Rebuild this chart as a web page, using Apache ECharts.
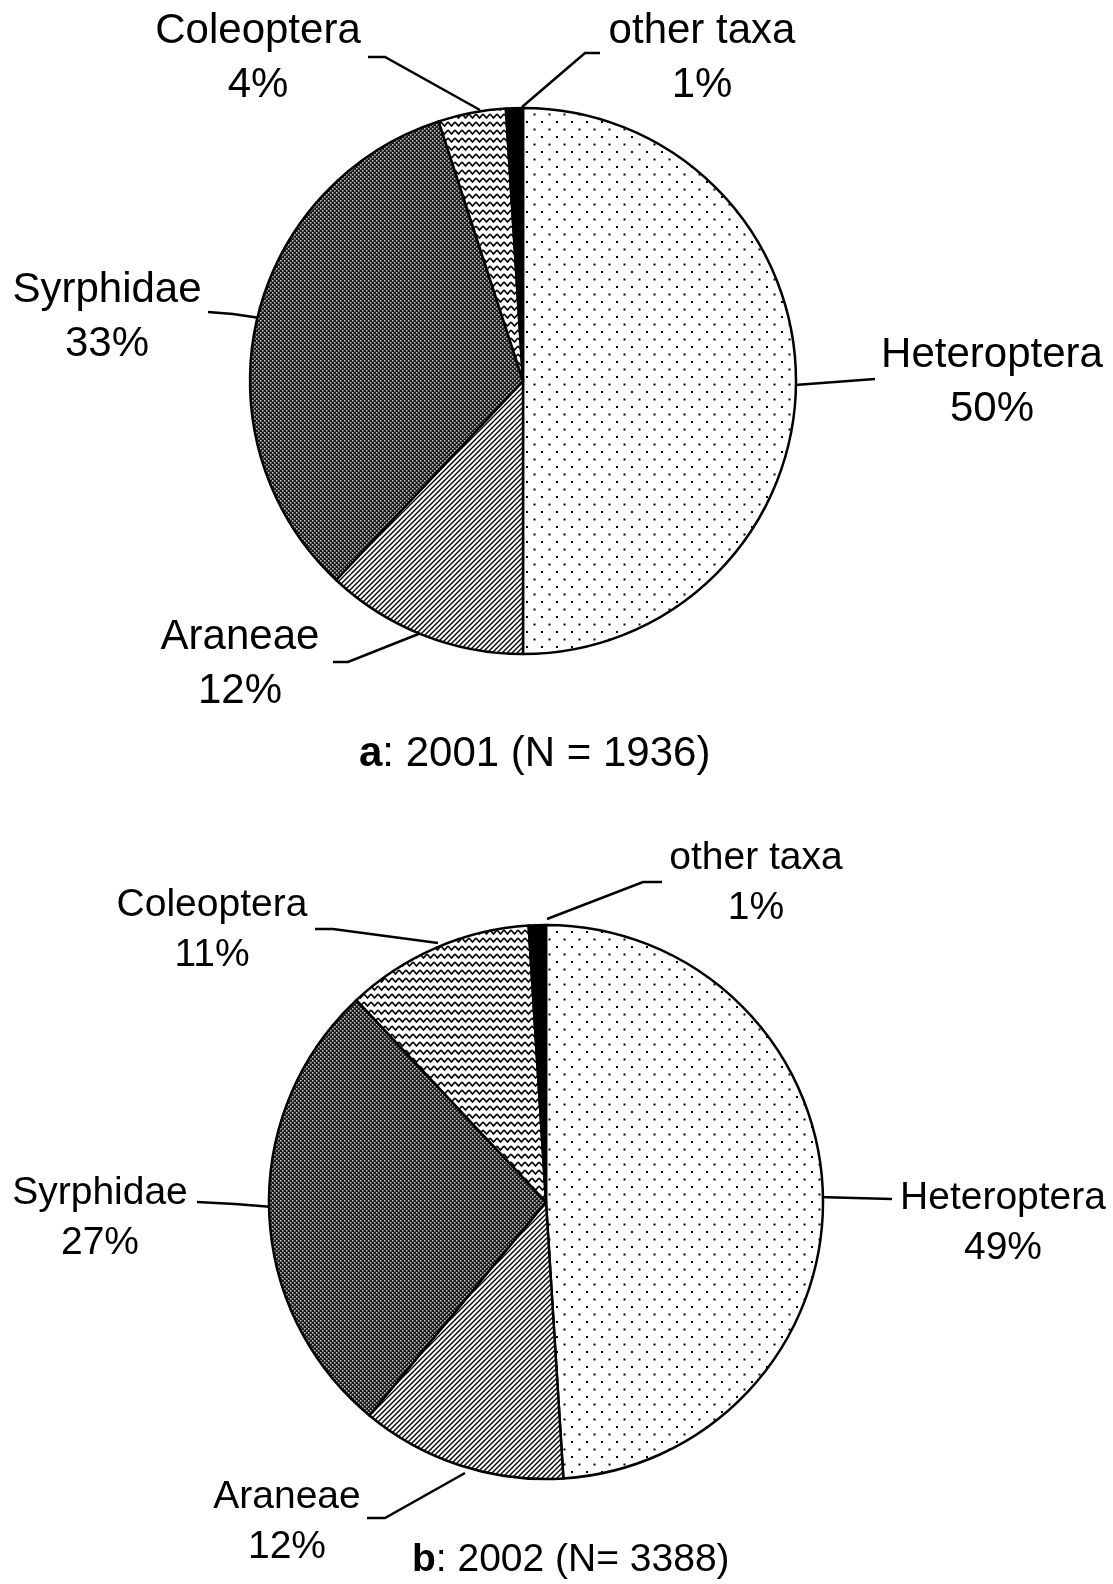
<!DOCTYPE html>
<html lang="en">
<head>
    <meta charset="UTF-8">
    <title>Taxa share 2001 / 2002</title>
    <script src="https://cdn.jsdelivr.net/npm/echarts@6/dist/echarts.min.js"></script>
    <style>
        html, body { margin: 0; padding: 0; background: #fff; }
    </style>
</head>
<body>

<div id="main" style="width: 1113px;height:1584px;"></div>
<script>
    // data (percent of individuals)
    var taxa = ['Heteroptera', 'Araneae', 'Syrphidae', 'Coleoptera', 'other taxa'];
    var share2001 = [50, 12, 33, 4, 1];
    var share2002 = [49, 12, 27, 11, 1];
    var captionA = ['a', ': 2001 (N = 1936)'];
    var captionB = ['b', ': 2002 (N= 3388)'];

    // label placement [x, y] and leader lines, per taxon
    var labelPosA = [[992, 382], [240, 664], [107, 317], [258, 58], [702, 58]];
    var leaderA = [
        [[795, 385], [835, 382], [875, 379]],
        [[421, 633], [348, 662], [333, 662]],
        [[260, 318], [233, 314], [208, 312]],
        [[480, 110], [385, 57], [368, 57]],
        [[522, 107], [585, 53], [600, 53]]
    ];
    var labelPosB = [[1003, 1223], [287, 1522], [100, 1218], [212, 930], [756, 883]];
    var leaderB = [
        [[818, 1197], [855, 1198], [892, 1199]],
        [[465, 1473], [385, 1518], [367, 1518]],
        [[273, 1207], [235, 1204], [197, 1202]],
        [[438, 943], [333, 929], [315, 929]],
        [[547, 919], [643, 882], [662, 882]]
    ];

    // fill patterns
    function tile(w, h, draw) {
        var c = document.createElement('canvas');
        c.width = w;
        c.height = h;
        var ctx = c.getContext('2d');
        draw(ctx, w, h);
        return {image: c, repeat: 'repeat'};
    }

    var dots = tile(15, 15, function (ctx) {
        ctx.fillStyle = '#fff';
        ctx.fillRect(0, 0, 15, 15);
        ctx.fillStyle = '#000';
        ctx.fillRect(1, 1, 2, 2);
        ctx.fillRect(8.5, 8.5, 2, 2);
    });
    var hatch = tile(5, 5, function (ctx) {
        ctx.fillStyle = '#fff';
        ctx.fillRect(0, 0, 5, 5);
        ctx.strokeStyle = '#000';
        ctx.lineWidth = 1.4;
        ctx.beginPath();
        ctx.moveTo(-1, 6); ctx.lineTo(6, -1);
        ctx.moveTo(-4, 4); ctx.lineTo(4, -4);
        ctx.moveTo(1, 9); ctx.lineTo(9, 1);
        ctx.stroke();
    });
    var cross = tile(4, 4, function (ctx) {
        ctx.fillStyle = '#1c1c1c';
        ctx.fillRect(0, 0, 4, 4);
        ctx.fillStyle = '#c4c4c4';
        ctx.fillRect(0, 0, 1.5, 1.5);
        ctx.fillRect(2, 2, 1.5, 1.5);
    });
    var waves = tile(7, 8, function (ctx) {
        ctx.fillStyle = '#fff';
        ctx.fillRect(0, 0, 7, 8);
        ctx.strokeStyle = '#000';
        ctx.lineWidth = 1.7;
        ctx.beginPath();
        ctx.moveTo(0, 2); ctx.lineTo(3.5, 6); ctx.lineTo(7, 2);
        ctx.stroke();
    });
    var fills = [dots, hatch, cross, waves, '#000'];

    function pieData(values) {
        return taxa.map(function (name, i) {
            return {name: name, value: values[i], itemStyle: {color: fills[i]}};
        });
    }

    function pieSeries(values, center, radius, pos, leader, size, lh) {
        return {
            type: 'pie',
            center: center,
            radius: radius,
            startAngle: 90,
            clockwise: true,
            avoidLabelOverlap: false,
            silent: true,
            data: pieData(values),
            itemStyle: {borderColor: '#000', borderWidth: 2.5},
            label: {
                show: true,
                formatter: function (p) {
                    return p.name + '\n' + p.value + '%';
                },
                color: '#000',
                fontFamily: 'Liberation Sans',
                fontSize: size,
                lineHeight: lh,
                align: 'center'
            },
            labelLine: {
                show: true,
                lineStyle: {color: '#000', width: 2.5}
            },
            labelLayout: function (params) {
                var i = params.dataIndex;
                return {
                    x: pos[i][0],
                    y: pos[i][1],
                    align: 'center',
                    verticalAlign: 'middle',
                    labelLinePoints: leader[i]
                };
            }
        };
    }

    var myChart = echarts.init(document.getElementById('main'));

    option = {
        backgroundColor: '#fff',
        animation: false,
        series: [
            pieSeries(share2001, [523, 381], 273, labelPosA, leaderA, 42, 54),
            pieSeries(share2002, [546, 1202], 277, labelPosB, leaderB, 39, 50)
        ],
        graphic: [
            {
                type: 'text',
                x: 359,
                y: 733,
                style: {
                    text: '{b|' + captionA[0] + '}' + captionA[1],
                    fontFamily: 'Liberation Sans',
                    fontSize: 42,
                    fill: '#000',
                    rich: {b: {fontWeight: 'bold', fontSize: 42, fontFamily: 'Liberation Sans'}}
                }
            },
            {
                type: 'text',
                x: 412,
                y: 1541,
                style: {
                    text: '{b|' + captionB[0] + '}' + captionB[1],
                    fontFamily: 'Liberation Sans',
                    fontSize: 39,
                    fill: '#000',
                    rich: {b: {fontWeight: 'bold', fontSize: 39, fontFamily: 'Liberation Sans'}}
                }
            }
        ]
    };
    myChart.setOption(option);
</script>

</body>
</html>
